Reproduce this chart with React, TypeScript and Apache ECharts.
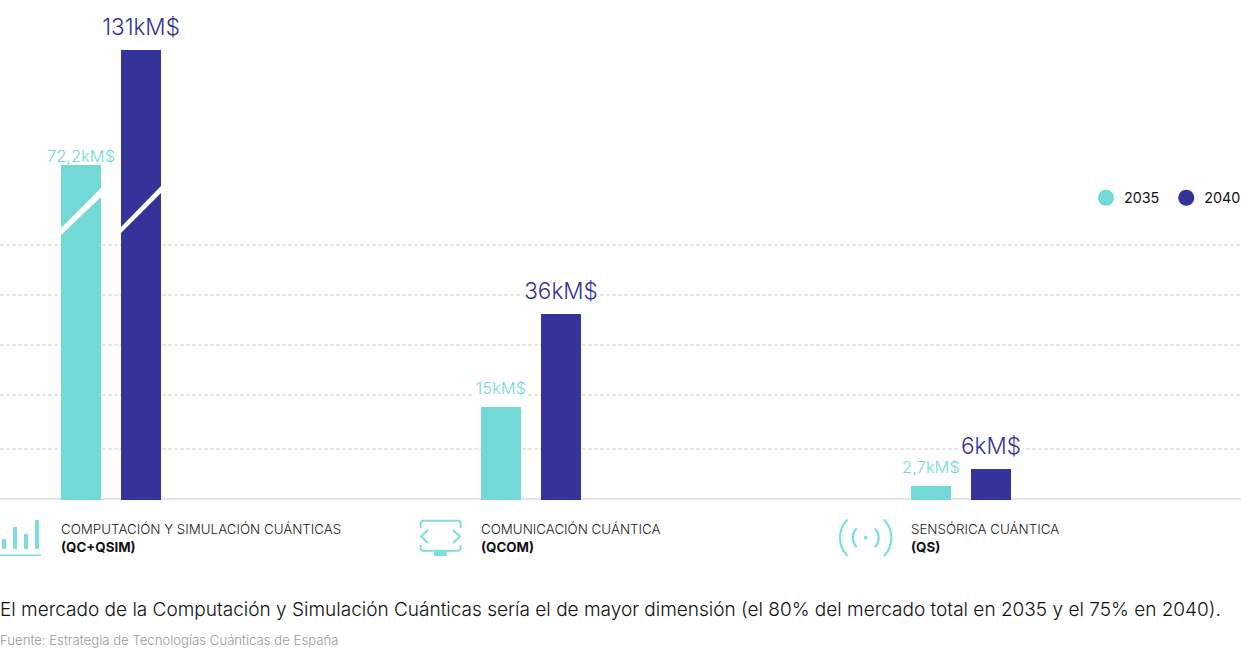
import React, { useEffect, useRef } from "react";
import * as echarts from "echarts";

const W = 1241;
const H = 649;
const TEAL = "#72d9d6";
const NAVY = "#343399";
const ICON = "#7fdedb";
const LABEL_FONT = "Inter";

const categories = ["COMPUTACIÓN Y SIMULACIÓN CUÁNTICAS", "COMUNICACIÓN CUÁNTICA", "SENSÓRICA CUÁNTICA"];
const categoryCodes = ["(QC+QSIM)", "(QCOM)", "(QS)"];
const seriesNames = ["2035", "2040"];
const values2035 = [72.2, 15, 2.7];
const values2040 = [131, 36, 6];
const labels2035 = ["72,2kM$", "15kM$", "2,7kM$"];
const labels2040 = ["131kM$", "36kM$", "6kM$"];
// The reference's bars are not on one linear scale (its tall bars are cut): hidden axis breaks reproduce this.
const axisBreaks = [
  { start: 6.1, end: 14.9, gap: 11.86 },
  { start: 15.1, end: 35.9, gap: 17.86 },
  { start: 36.1, end: 72.1, gap: 28.74 },
  { start: 72.3, end: 130.9, gap: 22.14 },
];
const gridLevels = [51, 105, 155, 205, 255];

// group frames: [left, width] so that each group's centre sits where the reference has it
const frames = [[0, 222], [222, 618], [840, 242]];
const GRID_TOP = 50;
const GRID_H = 450;

function iconGraphics() {
  const st = { stroke: ICON, lineWidth: 2, fill: "none" };
  const bars = [[2, 539], [13, 527], [24, 534], [35, 520]].map(([x, y]) => ({
    type: "rect", shape: { x, y, width: 4, height: 549 - y }, style: { fill: ICON },
  }));
  const arc = (r: number, s: number, e: number) => ({
    type: "arc",
    shape: { cx: 865.7, cy: 537.7, r, startAngle: (s * Math.PI) / 180, endAngle: (e * Math.PI) / 180, clockwise: true },
    style: { stroke: ICON, lineWidth: 2.2, fill: "none", lineCap: "round" },
  });
  return [
    ...bars,
    { type: "rect", shape: { x: 0, y: 554.5, width: 41, height: 1.6 }, style: { fill: ICON } },
    { type: "polyline", shape: { points: [[420.7, 528], [420.7, 522.5], [422.5, 520.7], [458.8, 520.7], [460.6, 522.5], [460.6, 528]] }, style: st },
    { type: "polyline", shape: { points: [[420.7, 545], [420.7, 549], [422.5, 550.8], [458.8, 550.8], [460.6, 549], [460.6, 545]] }, style: st },
    { type: "polyline", shape: { points: [[428, 530], [421, 536.5], [428, 543]] }, style: st },
    { type: "polyline", shape: { points: [[453, 530], [460, 536.5], [453, 543]] }, style: st },
    { type: "rect", shape: { x: 434, y: 551, width: 12.7, height: 5 }, style: { fill: ICON } },
    { type: "circle", shape: { cx: 865.7, cy: 537.7, r: 1.9 }, style: { fill: ICON } },
    arc(13, -42, 42), arc(13, 138, 222), arc(25.7, -43, 43), arc(25.7, 137, 223),
  ];
}

function slashGraphics() {
  return [
    [[61, 228], [101, 188], [101, 197], [61, 235]],
    [[121, 227], [161, 186], [161, 193], [121, 233]],
  ].map((points) => ({ type: "polygon", z: 50, shape: { points }, style: { fill: "#fff" } }));
}

function buildOption() {
  const grids: any[] = frames.map(([left, width]) => ({ left, width, top: GRID_TOP, height: GRID_H }));
  grids.push({ left: 0, width: W, top: GRID_TOP, height: GRID_H });

  const xAxes: any[] = categories.map((c, i) => ({
    type: "category", gridIndex: i, data: [c],
    axisLine: { show: false }, axisTick: { show: false }, axisLabel: { show: false },
  }));
  xAxes.push({ type: "category", gridIndex: 3, data: [""], show: false });

  const yAxes: any[] = categories.map((_, i) => ({
    type: "value", gridIndex: i, min: 0, max: 131,
    breaks: axisBreaks,
    breakArea: { show: false },
    axisLine: { show: false }, axisTick: { show: false }, axisLabel: { show: false }, splitLine: { show: false },
  }));
  yAxes.push({ type: "value", gridIndex: 3, min: 0, max: GRID_H, show: false, splitLine: { show: false } });

  const labelFor = (txt: string, color: string, size: number, i: number, series: number) => ({
    show: true, position: "top", formatter: txt, color, fontSize: size, fontFamily: LABEL_FONT, fontWeight: 300,
    distance: series === 0 ? (i === 0 ? 1 : 11) : 12,
    backgroundColor: series === 0 && i === 0 ? "transparent" : "#fff",
    padding: [0, 2, 0, 2],
  });

  const series: any[] = [
    {
      type: "line", xAxisIndex: 3, yAxisIndex: 3, data: [], z: 0, silent: true,
      markLine: {
        silent: true, symbol: "none", label: { show: false }, animation: false,
        data: [
          ...gridLevels.map((v) => ({ yAxis: v, lineStyle: { color: "#e6e6e6", width: 2, type: [4, 2] } })),
          { yAxis: 1, lineStyle: { color: "#e6e6e6", width: 2, type: "solid" } },
        ],
      },
    },
  ];
  categories.forEach((_, i) => {
    series.push({
      type: "bar", name: seriesNames[0], xAxisIndex: i, yAxisIndex: i, barWidth: 40, barGap: "50%", z: 5,
      itemStyle: { color: TEAL }, data: [values2035[i]], label: labelFor(labels2035[i], TEAL, 16.5, i, 0),
    });
    series.push({
      type: "bar", name: seriesNames[1], xAxisIndex: i, yAxisIndex: i, barWidth: 40, barGap: "50%", z: 5,
      itemStyle: { color: NAVY }, data: [values2040[i]], label: labelFor(labels2040[i], NAVY, 22.5, i, 1),
    });
  });

  const labelLefts = [61, 481, 911];
  const catTexts = categories.map((c, i) => ({
    type: "text", x: labelLefts[i], y: 520,
    style: {
      text: `{a|${c}}\n{b|${categoryCodes[i]}}`,
      rich: {
        a: { fontFamily: "Inter", fontSize: 13.35, fontWeight: 300, lineHeight: 18, fill: "#1a1a1a", color: "#1a1a1a" },
        b: { fontFamily: "Inter", fontSize: 13.35, fontWeight: 700, lineHeight: 18, fill: "#111", color: "#111" },
      },
    },
  }));

  return {
    animation: false,
    backgroundColor: "#fff",
    grid: grids, xAxis: xAxes, yAxis: yAxes, series,
    legend: {
      data: seriesNames, left: 1098, top: 189.7, padding: 0, width: 143, itemWidth: 16, itemHeight: 16, itemGap: 19, icon: "circle",
      selectedMode: false,
      textStyle: { fontFamily: "Inter", fontSize: 14.3, color: "#111", padding: [0, 0, 0, 5] },
    },
    graphic: [
      ...slashGraphics(),
      ...iconGraphics(),
      ...catTexts,
      {
        type: "text", x: 0, y: 600,
        style: { text: "El mercado de la Computación y Simulación Cuánticas sería el de mayor dimensión (el 80% del mercado total en 2035 y el 75% en 2040).", fontFamily: "Inter", fontWeight: 300, fontSize: 19.03, fill: "#111" },
      },
      {
        type: "text", x: 0, y: 633.7,
        style: { text: "Fuente: Estrategia de Tecnologías Cuánticas de España", fontFamily: "Inter", fontWeight: 300, fontSize: 13.17, fill: "#9a9a9a" },
      },
    ],
  };
}

export default function App() {
  const ref = useRef<HTMLDivElement>(null);
  useEffect(() => {
    document.body.style.margin = "0";
    const chart = echarts.init(ref.current!, null, { renderer: "svg" });
    chart.setOption(buildOption() as any);
    return () => chart.dispose();
  }, []);
  return <div ref={ref} style={{ width: W, height: H }} />;
}
